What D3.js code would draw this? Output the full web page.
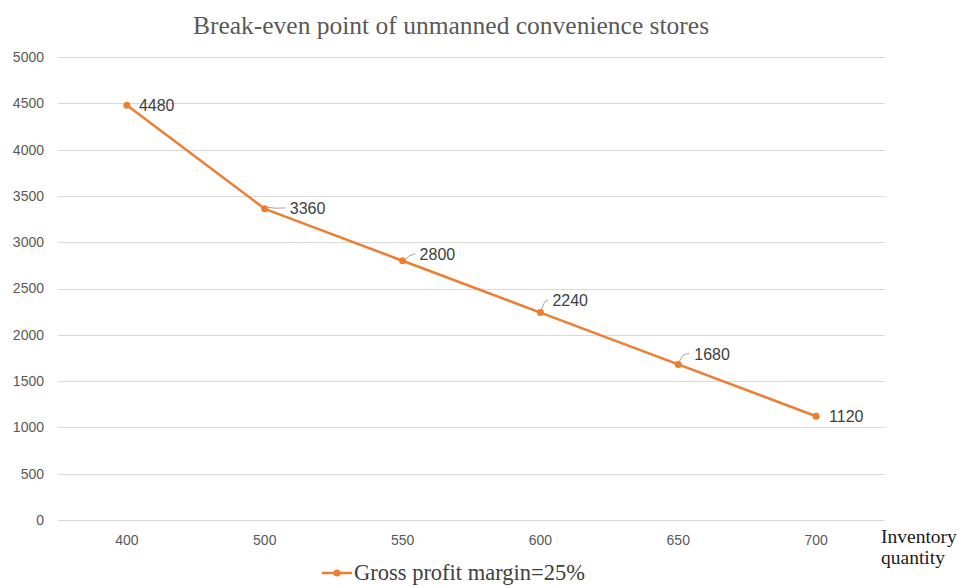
<!DOCTYPE html>
<html>
<head>
  <meta charset="utf-8">
  <title>Break-even point</title>
  <style>
    body { margin: 0; background: #fff; }
    .axis-label { font-family: "Liberation Sans", Arial, sans-serif; font-size: 14px; fill: #595959; }
    .data-label { font-family: "Liberation Sans", Arial, sans-serif; font-size: 16px; fill: #404040; }
    .serif { font-family: "Liberation Serif", "Times New Roman", serif; }
  </style>
</head>
<body>
  <svg id="chart"></svg>

  <script src="https://d3js.org/d3.v7.min.js"></script>
  <script>
    // data
    const quantities = ["400", "500", "550", "600", "650", "700"];
    const breakEven = [4480, 3360, 2800, 2240, 1680, 1120];
    const yTicks = [0, 500, 1000, 1500, 2000, 2500, 3000, 3500, 4000, 4500, 5000];
    const seriesName = "Gross profit margin=25%";

    // label placement relative to the point; leader: none / curve / elbow
    const labelOffsets = [
      { dx: 12, dy: 0, leader: "none" },
      { dx: 25, dy: 0, leader: "curve" },
      { dx: 17, dy: -6, leader: "curve" },
      { dx: 12, dy: -12, leader: "elbow" },
      { dx: 16, dy: -10, leader: "elbow" },
      { dx: 13, dy: 0, leader: "none" }
    ];

    const width = 960, height = 586;
    const plotLeft = 58, plotRight = 885, plotTop = 57, plotBottom = 520;
    const orange = "#ED7D31";

    const svg = d3.select("#chart")
      .attr("width", width)
      .attr("height", height);

    const x = d3.scaleBand()
      .domain(quantities)
      .range([plotLeft, plotRight]);

    const y = d3.scaleLinear()
      .domain([0, 5000])
      .range([plotBottom, plotTop]);

    // grid lines
    svg.append("g")
      .selectAll("line")
      .data(yTicks)
      .enter().append("line")
      .attr("x1", plotLeft)
      .attr("x2", plotRight)
      .attr("y1", d => Math.round(y(d)) + 0.5)
      .attr("y2", d => Math.round(y(d)) + 0.5)
      .attr("stroke", "#d9d9d9")
      .attr("stroke-width", 1);

    // y tick labels
    svg.append("g")
      .selectAll("text")
      .data(yTicks)
      .enter().append("text")
      .attr("class", "axis-label")
      .attr("x", 44)
      .attr("y", d => y(d))
      .attr("dy", "0.35em")
      .attr("text-anchor", "end")
      .text(d => d);

    // x tick labels
    svg.append("g")
      .selectAll("text")
      .data(quantities)
      .enter().append("text")
      .attr("class", "axis-label")
      .attr("x", d => x(d) + x.bandwidth() / 2)
      .attr("y", 540)
      .attr("dy", "0.35em")
      .attr("text-anchor", "middle")
      .text(d => d);

    const points = quantities.map((q, i) => ({ q: q, v: breakEven[i], off: labelOffsets[i] }));
    const cx = d => x(d.q) + x.bandwidth() / 2;

    const line = d3.line()
      .x(cx)
      .y(d => y(d.v));

    svg.append("path")
      .datum(points)
      .attr("d", line)
      .attr("fill", "none")
      .attr("stroke", orange)
      .attr("stroke-width", 2.5)
      .attr("stroke-linejoin", "round");

    svg.append("g")
      .selectAll("circle")
      .data(points)
      .enter().append("circle")
      .attr("cx", cx)
      .attr("cy", d => y(d.v))
      .attr("r", 3.5)
      .attr("fill", orange);

    // leader lines
    svg.append("g")
      .selectAll("path")
      .data(points.filter(d => d.off.leader !== "none"))
      .enter().append("path")
      .attr("d", d => {
        const px = cx(d), py = y(d.v);
        const tx = px + d.off.dx - 4, ty = py + d.off.dy;
        if (d.off.leader === "elbow") {
          return `M${px + 1},${py - 3} L${px + 4},${ty + 2} Q${px + 5},${ty} ${px + 7},${ty} L${tx - 1},${ty - 1}`;
        }
        return `M${px + 3},${py - 1.5} Q${(px + tx) / 2},${ty} ${tx},${ty - 1}`;
      })
      .attr("fill", "none")
      .attr("stroke", "#a6a6a6")
      .attr("stroke-width", 1);

    // data labels
    svg.append("g")
      .selectAll("text")
      .data(points)
      .enter().append("text")
      .attr("class", "data-label")
      .attr("x", d => cx(d) + d.off.dx)
      .attr("y", d => y(d.v) + d.off.dy)
      .attr("dy", "0.35em")
      .text(d => d.v);

    // title
    svg.append("text")
      .attr("class", "serif")
      .attr("x", 451)
      .attr("y", 34)
      .attr("text-anchor", "middle")
      .style("font-size", "25.5px")
      .style("fill", "#595959")
      .text("Break-even point of unmanned convenience stores");

    // x axis name
    const axisName = svg.append("text")
      .attr("class", "serif")
      .style("font-size", "19.5px")
      .style("fill", "#1a1a1a");
    axisName.append("tspan").attr("x", 881).attr("y", 543).text("Inventory");
    axisName.append("tspan").attr("x", 881).attr("y", 564).text("quantity");

    // legend
    const lg = svg.append("g");
    lg.append("line")
      .attr("x1", 322).attr("x2", 352)
      .attr("y1", 573).attr("y2", 573)
      .attr("stroke", orange)
      .attr("stroke-width", 2.5);
    lg.append("circle")
      .attr("cx", 337).attr("cy", 573).attr("r", 3.5)
      .attr("fill", orange);
    lg.append("text")
      .attr("class", "serif")
      .attr("x", 354)
      .attr("y", 580)
      .style("font-size", "22.5px")
      .style("fill", "#404040")
      .text(seriesName);
  </script>
</body>
</html>
